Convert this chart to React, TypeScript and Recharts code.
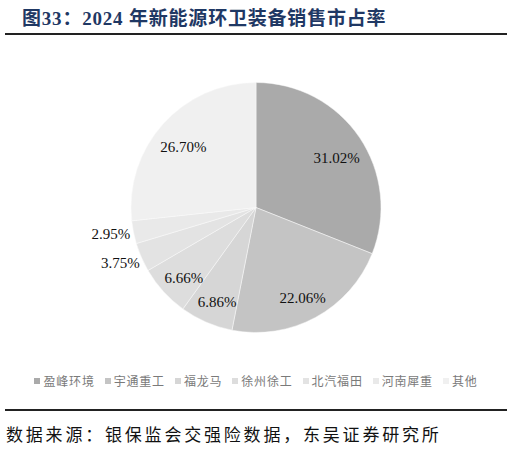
import { PieChart, Pie, Cell, Legend } from 'recharts';

const companies = ['盈峰环境', '宇通重工', '福龙马', '徐州徐工', '北汽福田', '河南犀重', '其他'];
const shares = [31.02, 22.06, 6.86, 6.66, 3.75, 2.95, 26.7];

const COLORS = ['#aaaaaa', '#c4c4c4', '#d6d6d6', '#dddddd', '#e3e3e3', '#e9e9e9', '#f0f0f0'];

const data = companies.map((name, i) => ({ name, value: shares[i] }));

const RAD = Math.PI / 180;

// labels inside for big slices, outside for the small ones
const renderLabel = ({ cx, cy, midAngle, outerRadius, value }: any) => {
  const outside = value < 5;
  const r = outside ? outerRadius + 23 : outerRadius * 0.78;
  const x = cx + r * Math.cos(-midAngle * RAD);
  const y = cy + r * Math.sin(-midAngle * RAD) + (outside ? -3 : 5);
  return (
    <text
      x={x}
      y={y}
      textAnchor="middle"
      dominantBaseline="central"
      fill="#111"
      fontSize={15}
      fontFamily="'Liberation Serif', 'Times New Roman', serif"
    >
      {value.toFixed(2)}%
    </text>
  );
};

const CustomLegend = () => (
  <div
    style={{
      display: 'flex',
      justifyContent: 'center',
      gap: 10,
      fontSize: 12,
      letterSpacing: 0.8,
      color: '#7a7a7a',
      fontFamily: "'Noto Sans CJK SC', sans-serif",
    }}
  >
    {companies.map((name, i) => (
      <div key={name} style={{ display: 'flex', alignItems: 'center' }}>
        <span
          style={{
            display: 'inline-block',
            width: 6,
            height: 6,
            background: COLORS[i],
            marginRight: 3,
          }}
        />
        <span>{name}</span>
      </div>
    ))}
  </div>
);

const App = () => {
  return (
    <div
      style={{
        position: 'absolute',
        left: 0,
        top: 0,
        width: 512,
        height: 452,
        background: '#fff',
        overflow: 'hidden',
      }}
    >
      {/* Title */}
      <div
        style={{
          position: 'absolute',
          left: 22,
          top: 3,
          fontSize: 19,
          fontWeight: 'bold',
          color: '#1f3864',
          letterSpacing: 0.8,
          fontFamily: "'Liberation Serif', 'Noto Sans CJK SC', serif",
          whiteSpace: 'nowrap',
        }}
      >
        图33：2024 年新能源环卫装备销售市占率
      </div>
      <div
        style={{
          position: 'absolute',
          left: 5,
          top: 33,
          width: 502,
          height: 2,
          background: '#222',
        }}
      />

      <div style={{ position: 'absolute', left: 0, top: 0 }}>
        <PieChart width={512} height={395} margin={{ top: 0, right: 0, bottom: 0, left: 0 }}>
          <Pie
            data={data}
            dataKey="value"
            nameKey="name"
            cx={256}
            cy={207.5}
            outerRadius={125}
            startAngle={90}
            endAngle={-270}
            stroke="#fafafa"
            strokeWidth={0.5}
            label={renderLabel}
            labelLine={false}
            isAnimationActive={false}
          >
            {data.map((entry, index) => (
              <Cell key={entry.name} fill={COLORS[index]} />
            ))}
          </Pie>
          <Legend
            verticalAlign="bottom"
            content={<CustomLegend />}
            wrapperStyle={{ bottom: 6 }}
          />
        </PieChart>
      </div>

      {/* Source */}
      <div
        style={{
          position: 'absolute',
          left: 5,
          top: 409,
          width: 502,
          height: 2,
          background: '#222',
        }}
      />
      <div
        style={{
          position: 'absolute',
          left: 6,
          top: 421,
          fontSize: 17,
          letterSpacing: 2.8,
          color: '#111',
          fontFamily: "'Noto Sans CJK SC', serif",
          whiteSpace: 'nowrap',
        }}
      >
        数据来源：银保监会交强险数据，东吴证券研究所
      </div>
    </div>
  );
};

export default App;
